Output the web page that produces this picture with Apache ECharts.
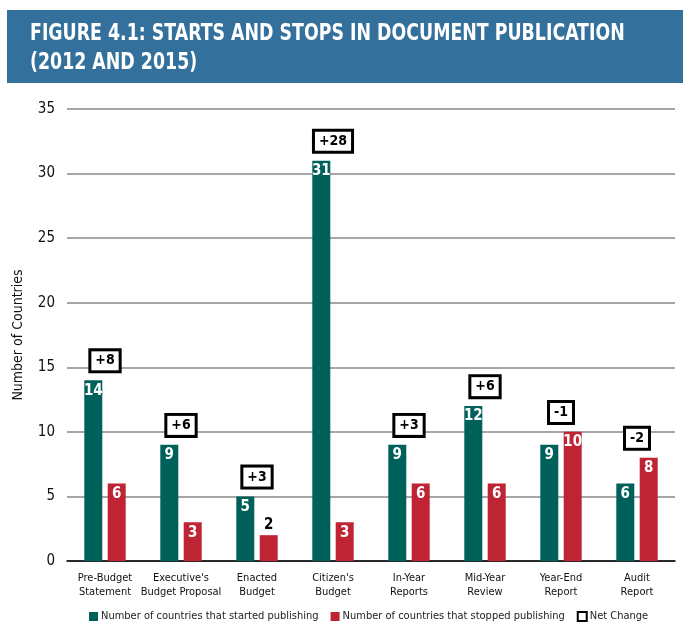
<!DOCTYPE html>
<html><head><meta charset="utf-8">
<script src="https://cdn.jsdelivr.net/npm/echarts@6/dist/echarts.min.js"></script>
<style>html,body{margin:0;padding:0;background:#fff}#c{width:683px;height:628px}</style>
</head><body><div id="c"></div>
<script>
const categories = ["Pre-Budget\nStatement","Executive's\nBudget Proposal","Enacted\nBudget","Citizen's\nBudget","In-Year\nReports","Mid-Year\nReview","Year-End\nReport","Audit\nReport"];
const started = [14, 9, 5, 31, 9, 12, 9, 6];
const stopped = [6, 3, 2, 3, 6, 6, 10, 8];
const netChange = started.map((v, i) => v - stopped[i]);
const yTicks = [0, 5, 10, 15, 20, 25, 30, 35];

const FONT = "'Liberation Sans Narrow','DejaVu Sans Condensed','Roboto Condensed',Arial,sans-serif";
const GREEN = '#00605a', RED = '#be2434';
const chart = echarts.init(document.getElementById('c'), null, {renderer: 'canvas'});
const netPoints = netChange.map((n, i) => [i, Math.max(started[i], stopped[i]) + 1.5, n]);
chart.setOption({
  animation: false,
  textStyle: {fontFamily: FONT},
  graphic: [
    {type: 'rect', shape: {x: 7, y: 10, width: 676, height: 73}, style: {fill: '#33709c'}, z: 0},
    {type: 'text', x: 30, y: 20, scaleX: 0.84, style: {text: 'FIGURE 4.1: STARTS AND STOPS IN DOCUMENT PUBLICATION\n(2012 AND 2015)', fill: '#fff', font: "bold 23px " + FONT, lineHeight: 29}}
  ],
  grid: {left: 67, right: 8, top: 109, bottom: 67, containLabel: false},
  legend: {
    bottom: 1, left: 84, itemWidth: 9, itemHeight: 9, itemGap: 12,
    textStyle: {fontFamily: FONT, fontSize: 11, color: '#222', padding: [0, 0, 0, -2]},
    data: [
      {name: 'Number of countries that started publishing', icon: 'rect'},
      {name: 'Number of countries that stopped publishing', icon: 'rect'},
      {name: 'Net Change', icon: 'rect', itemStyle: {color: '#fff', borderColor: '#000', borderWidth: 2, opacity: 1}}
    ]
  },
  xAxis: {
    type: 'category', data: categories,
    axisLine: {lineStyle: {color: '#000', width: 1.5}},
    axisTick: {show: false},
    axisLabel: {fontFamily: FONT, fontSize: 11, color: '#111', lineHeight: 14, margin: 10, interval: 0}
  },
  yAxis: {
    type: 'value', min: 0, max: 35, interval: 5,
    name: 'Number of Countries', nameLocation: 'middle', nameGap: 42,
    nameTextStyle: {fontFamily: FONT, fontSize: 14, color: '#111'},
    axisLine: {show: false}, axisTick: {show: false},
    axisLabel: {fontFamily: FONT, fontSize: 15, color: '#111', margin: 12,
      formatter: v => yTicks.includes(v) ? String(v) : ''},
    splitLine: {lineStyle: {color: '#888', width: 1.5}}
  },
  series: [
    {
      name: 'Number of countries that started publishing', type: 'bar', data: started,
      barWidth: 18, barGap: '30%', itemStyle: {color: GREEN},
      label: {show: true, position: 'insideTop', distance: 3, color: '#fff', fontFamily: FONT, fontWeight: 'bold', fontSize: 15}
    },
    {
      name: 'Number of countries that stopped publishing', type: 'bar',
      data: stopped.map(v => v < 3 ? {value: v, label: {position: 'top', color: '#000'}} : v),
      barWidth: 18, itemStyle: {color: RED},
      label: {show: true, position: 'insideTop', distance: 3, color: '#fff', fontFamily: FONT, fontWeight: 'bold', fontSize: 15}
    },
    {
      name: 'Net Change', type: 'custom', data: netPoints, z: 5,
      itemStyle: {color: '#fff', borderColor: '#000', borderWidth: 2},
      encode: {x: 0, y: 1},
      renderItem: (params, api) => {
        const p = api.coord([api.value(0), api.value(1)]);
        const n = api.value(2);
        return {
          type: 'text', x: p[0], y: p[1], z2: 10,
          style: {
            text: (n > 0 ? '+' : '') + n, align: 'center', verticalAlign: 'middle',
            font: 'bold 14px ' + FONT, fill: '#000',
            backgroundColor: '#fff', borderColor: '#000', borderWidth: 3, padding: [3, 4, 2, 4]
          }
        };
      }
    }
  ]
});
</script></body></html>
